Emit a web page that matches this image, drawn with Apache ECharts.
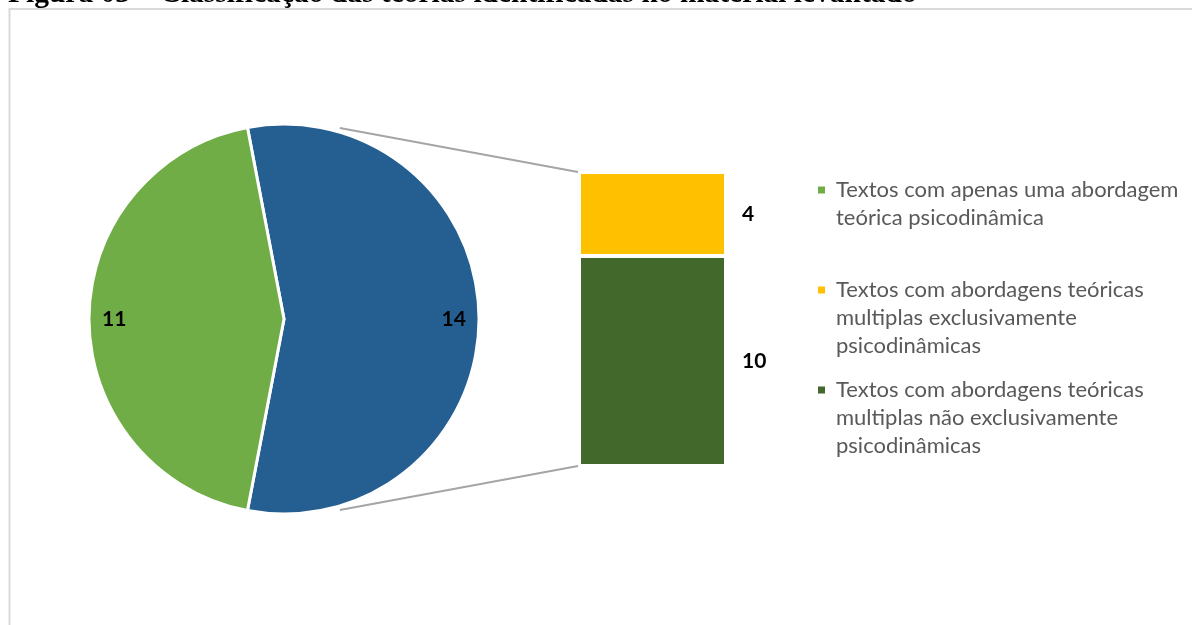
<!DOCTYPE html>
<html>
<head>
<meta charset="utf-8">
<script src="https://cdn.jsdelivr.net/npm/echarts@6/dist/echarts.min.js"></script>
<style>
  html, body { margin: 0; padding: 0; background: #fff; }
  #chart { width: 1192px; height: 625px; }
</style>
</head>
<body>
<div id="chart"></div>
<script>
// dados
const pieNames = ['Textos com apenas uma abordagem teórica psicodinâmica', 'Outros'];
const pieValues = [11, 14];
const barNames = [
  'Textos com abordagens teóricas multiplas exclusivamente psicodinâmicas',
  'Textos com abordagens teóricas multiplas não exclusivamente psicodinâmicas'
];
const barValues = [4, 10];
const legendNames = [pieNames[0], barNames[0], barNames[1]];
const legendLines = [
  'Textos com apenas uma abordagem\nteórica psicodinâmica\n ',
  'Textos com abordagens teóricas\nmultiplas exclusivamente\npsicodinâmicas',
  'Textos com abordagens teóricas\nmultiplas não exclusivamente\npsicodinâmicas'
];
const caption = 'Figura 03 – Classificação das teorias identificadas no material levantado';

const colors = ['#70AD47', '#255E91', '#FFC000', '#43682B'];
const font = 'Lato, "Open Sans", sans-serif';

// layout
const pieCenter = [284, 319];
const pieRadius = 195;
const gridBox = { left: 579, top: 172, width: 147, height: 294 };

const chart = echarts.init(document.getElementById('chart'));

const total = pieValues[0] + pieValues[1];
const startAngle = 180 * pieValues[1] / total;
const pieData = [
  { name: pieNames[1], value: pieValues[1], itemStyle: { color: colors[1] } },
  { name: pieNames[0], value: pieValues[0], itemStyle: { color: colors[0] } }
];

// ícone: quadrado alinhado com a primeira linha do texto
const legendIcon = 'path://M0,0L0.1,0M0,10.5L7,10.5L7,17.5L0,17.5ZM13,84L12.9,84';

const valueLabel = { fontFamily: font, fontSize: 21, fontWeight: 'bold', color: '#000' };

const option = {
  animation: false,
  textStyle: { fontFamily: font },
  legend: {
    orient: 'vertical',
    left: 818,
    top: 176,
    padding: 0,
    itemWidth: 13,
    itemHeight: 84,
    itemGap: 16,
    icon: legendIcon,
    selectedMode: false,
    data: legendNames,
    itemStyle: { borderWidth: 0 },
    formatter: name => legendLines[legendNames.indexOf(name)],
    textStyle: { fontFamily: font, fontSize: 22, lineHeight: 28, color: '#595959' }
  },
  grid: gridBox,
  xAxis: { type: 'category', data: ['bar'], show: false },
  yAxis: { type: 'value', min: 0, max: barValues[0] + barValues[1], show: false },
  series: [
    {
      type: 'pie',
      center: pieCenter,
      radius: pieRadius,
      startAngle: startAngle,
      clockwise: true,
      silent: true,
      data: pieData,
      label: { show: false },
      labelLine: { show: false },
      itemStyle: { borderColor: '#fff', borderWidth: 3 },
      z: 3
    },
    {
      // anel transparente só para posicionar os rótulos perto da borda
      type: 'pie',
      center: pieCenter,
      radius: [pieRadius * 0.71, pieRadius],
      startAngle: startAngle,
      clockwise: true,
      silent: true,
      data: pieData.map(d => ({ name: d.name, value: d.value, itemStyle: { color: 'rgba(0,0,0,0)' } })),
      label: Object.assign({ show: true, position: 'inside', formatter: '{c}' }, valueLabel),
      labelLine: { show: false },
      z: 4
    },
    {
      name: barNames[1],
      type: 'bar',
      stack: 'outros',
      barWidth: '100%',
      data: [barValues[1]],
      itemStyle: { color: colors[3], borderColor: '#fff', borderWidth: 2 },
      label: Object.assign({ show: true, position: 'right', distance: 16 }, valueLabel)
    },
    {
      name: barNames[0],
      type: 'bar',
      stack: 'outros',
      barWidth: '100%',
      data: [barValues[0]],
      itemStyle: { color: colors[2], borderColor: '#fff', borderWidth: 2 },
      label: Object.assign({ show: true, position: 'right', distance: 16 }, valueLabel)
    }
  ]
};

chart.setOption(option);

// linhas de ligação da pizza até a barra
const yTop = chart.convertToPixel({ gridIndex: 0 }, ['bar', barValues[0] + barValues[1]])[1];
const yBottom = chart.convertToPixel({ gridIndex: 0 }, ['bar', 0])[1];
const ang = 73.7 * Math.PI / 180;
const rr = pieRadius + 4;
const px = pieCenter[0] + rr * Math.cos(ang);
const xBar = gridBox.left - 1;

chart.setOption({
  graphic: [
    {
      type: 'rect',
      shape: { x: 9.5, y: 9, width: 1400, height: 800 },
      style: { fill: 'none', stroke: '#D9D9D9', lineWidth: 2 },
      silent: true,
      z: 0
    },
    {
      type: 'line',
      shape: { x1: px, y1: pieCenter[1] - rr * Math.sin(ang), x2: xBar, y2: yTop },
      style: { stroke: '#A5A5A5', lineWidth: 2 },
      silent: true,
      z: 1
    },
    {
      type: 'line',
      shape: { x1: px, y1: pieCenter[1] + rr * Math.sin(ang), x2: xBar, y2: yBottom },
      style: { stroke: '#A5A5A5', lineWidth: 2 },
      silent: true,
      z: 1
    },
    {
      // legenda da figura, cortada no topo da imagem
      type: 'text',
      x: 8,
      y: -6,
      silent: true,
      style: {
        text: caption,
        verticalAlign: 'middle',
        font: 'bold 29.5px "Liberation Serif", serif',
        fill: '#000'
      }
    }
  ]
});
</script>
</body>
</html>
